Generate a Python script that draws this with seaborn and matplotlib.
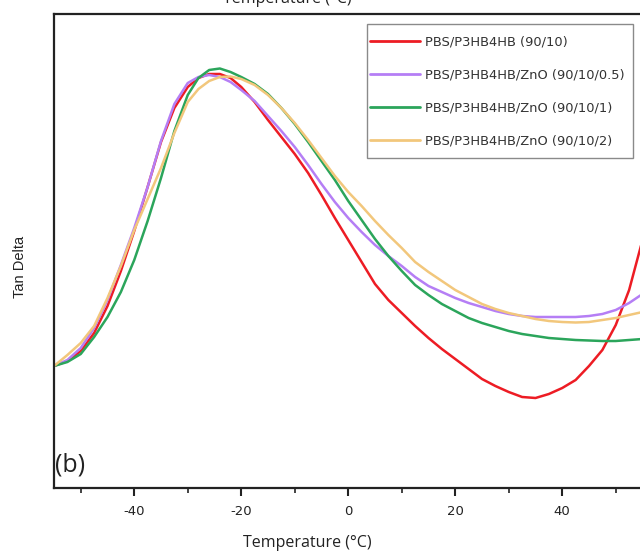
import numpy as np
import pandas as pd
import matplotlib
matplotlib.use("Agg")
import matplotlib.pyplot as plt
from matplotlib.patches import Rectangle
import seaborn as sns

# ---- data ----
temperature = [-55, -52.5, -50, -47.5, -45, -42.5, -40, -37.5, -35, -32.5,
               -30, -28, -26, -24, -22, -20,
               -17.5, -15, -12.5, -10, -7.5, -5, -2.5, 0,
               2.5, 5, 7.5, 10, 12.5, 15, 17.5, 20,
               22.5, 25, 27.5, 30, 32.5, 35, 37.5, 40,
               42.5, 45, 47.5, 50, 52.5, 55, 57.5, 60]
tan_red = [.122, .127, .137, .155, .182, .217, .257, .301, .346, .380,
           .401, .410, .414, .414, .410, .401,
           .386, .368, .351, .334, .315, .293, .270, .248,
           .226, .204, .188, .175, .162, .150, .139, .129,
           .119, .109, .102, .096, .091, .090, .094, .100,
           .108, .122, .138, .163, .198, .248, .298, .348]
tan_purple = [.122, .128, .140, .160, .188, .223, .260, .301, .347, .384,
              .405, .411, .413, .411, .406, .398,
              .387, .372, .357, .341, .323, .304, .286, .270,
              .256, .243, .232, .222, .211, .202, .196, .190,
              .185, .181, .177, .174, .172, .171, .171, .171,
              .171, .172, .174, .178, .185, .194, .205, .218]
tan_green = [.122, .126, .134, .151, .171, .196, .228, .267, .310, .357,
             .393, .410, .418, .4195, .416, .411,
             .404, .394, .380, .364, .346, .327, .308, .287,
             .268, .249, .232, .217, .203, .193, .184, .177,
             .170, .165, .161, .157, .154, .152, .150, .149,
             .148, .1475, .147, .147, .148, .149, .150, .151]
tan_orange = [.122, .133, .145, .162, .190, .222, .258, .289, .320, .355,
              .386, .399, .407, .411, .4115, .409,
              .403, .393, .380, .365, .348, .330, .312, .296,
              .282, .267, .253, .240, .226, .216, .207, .198,
              .191, .184, .179, .175, .172, .169, .167, .166,
              .1655, .166, .168, .170, .173, .176, .179, .182]
series_names = ["PBS/P3HB4HB (90/10)", "PBS/P3HB4HB/ZnO (90/10/0.5)",
                "PBS/P3HB4HB/ZnO (90/10/1)", "PBS/P3HB4HB/ZnO (90/10/2)"]
colors = ["#ED1C24", "#B57EF5", "#2BA55B", "#F2C77C"]
xticks = [-40, -20, 0, 20, 40]
xtick_labels = ["-40", "-20", "0", "20", "40"]
xminor = [-50, -30, -10, 10, 30, 50]

frames = []
for name, vals in zip(series_names, [tan_red, tan_purple, tan_green, tan_orange]):
    frames.append(pd.DataFrame({"Temperature": temperature, "TanDelta": vals, "Sample": name}))
df = pd.concat(frames, ignore_index=True)

sns.set_style("white")
plt.rcParams['font.family'] = ['DejaVu Sans']
plt.rcParams['lines.solid_joinstyle'] = 'round'

W, H = 640, 556
fig = plt.figure(figsize=(W / 100, H / 100), dpi=100)
left_px, right_px, top_px, bottom_px = 54, 54 + 5.35 * 115, 14, 488
ax = fig.add_axes([left_px / W, 1 - bottom_px / H, (right_px - left_px) / W,
                   (bottom_px - top_px) / H])

sns.lineplot(data=df, x="Temperature", y="TanDelta", hue="Sample",
             hue_order=series_names, palette=colors, linewidth=1.8, ax=ax,
             sort=False, estimator=None)

ax.set_xlim(-55, 60)
ax.set_ylim(0.0, 0.474)
ax.set_xticks(xticks)
ax.set_xticks(xminor, minor=True)
ax.set_xticklabels(xtick_labels, fontsize=9.5, color="#222222")
ax.set_yticks([])
ax.tick_params(axis="x", which="major", direction="out", length=6, width=1.5,
               color="#222222", bottom=True, pad=6)
ax.tick_params(axis="x", which="minor", direction="out", length=3.5, width=1.2,
               color="#222222", bottom=True)
for side in ["left", "bottom", "top"]:
    ax.spines[side].set_visible(True)
    ax.spines[side].set_linewidth(1.6)
    ax.spines[side].set_color("#222222")
ax.spines["right"].set_visible(False)

ax.set_xlabel("")
ax.set_ylabel("")
fig.text(307 / W, 1 - 543 / H, "Temperature (\u00b0C)", ha="center", va="center",
         fontsize=11.5, family=["Open Sans", "DejaVu Sans"], color="#222222")
fig.text(287 / W, 1 - 3 / H, "Temperature (\u00b0C)", ha="center", va="baseline",
         fontsize=11.5, family=["Open Sans", "DejaVu Sans"], color="#222222")
fig.text(20 / W, 1 - 267 / H, "Tan Delta", ha="center", va="center", rotation=90,
         fontsize=10.5, family=["Liberation Sans", "DejaVu Sans"], color="#222222")
ax.text(0.002, 0.022, "(b)", transform=ax.transAxes, ha="left", va="bottom",
        fontsize=18, family=["Open Sans", "DejaVu Sans"], color="#222222")

# legend: frame drawn separately so the inner padding can match
frame = Rectangle((367 / W, 1 - 158 / H), (633 - 367) / W, (158 - 24) / H,
                  transform=fig.transFigure, fill=True, facecolor="white",
                  edgecolor="#8a8a8a", linewidth=1.0, zorder=4, clip_on=False)
ax.add_patch(frame)
handles, labels = ax.get_legend_handles_labels()
leg = ax.legend(handles, labels, loc="upper left",
                bbox_to_anchor=(370 / W, 1 - 35.5 / H), bbox_transform=fig.transFigure,
                fontsize=9.4, handlelength=3.83, handletextpad=0.38, labelspacing=1.54,
                borderpad=0.0, frameon=False, borderaxespad=0)
leg.set_zorder(6)
for t in leg.get_texts():
    t.set_color("#333333")
for l in leg.get_lines():
    l.set_linewidth(2.0)

fig.savefig("out.png", dpi=100)
